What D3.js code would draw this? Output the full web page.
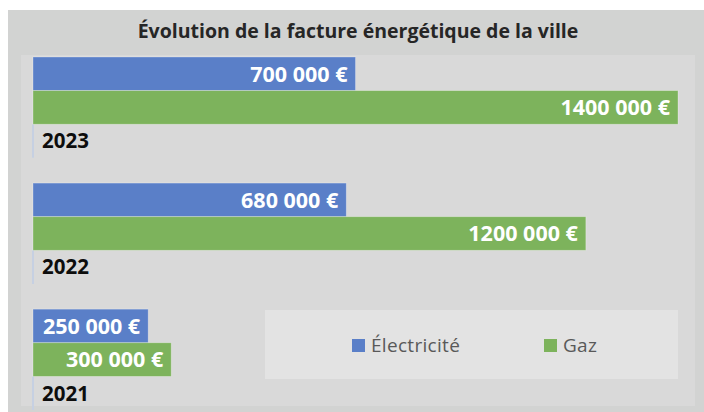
<!DOCTYPE html>
<html>
<head>
<meta charset="utf-8">
<script src="https://cdn.jsdelivr.net/npm/d3@7"></script>
<style>
    body { margin: 0; background: #fff; }
    svg { display: block; font-family: "Open Sans", sans-serif; }
</style>
</head>
<body>
<svg id="chart"></svg>
<script>
// Chart values
const years = ["2023", "2022", "2021"];
const seriesNames = ["Électricité", "Gaz"];
const electricite = [700000, 680000, 250000];
const gaz = [1400000, 1200000, 300000];
const chartTitle = "Évolution de la facture énergétique de la ville";

const width = 704;
const height = 412;
const colors = { "Électricité": "#5a7fc8", "Gaz": "#7db35c" };

function euro(v) {
    // "# ##0 €" style used in the source: only the last group is split
    const thousands = Math.floor(v / 1000);
    const rest = String(v % 1000).padStart(3, "0");
    return thousands + " " + rest + " €";
}

function drawChart() {
    const svg = d3.select("#chart")
        .attr("width", width)
        .attr("height", height);

    // Outer frame and plot area
    svg.append("rect")
        .attr("x", 8).attr("y", 10)
        .attr("width", width - 8).attr("height", height - 10)
        .attr("fill", "#d2d3d2");

    svg.append("rect")
        .attr("x", 21).attr("y", 55)
        .attr("width", 674).attr("height", 351)
        .attr("fill", "#d9d9d9");

    svg.append("text")
        .attr("x", 358).attr("y", 38)
        .attr("text-anchor", "middle")
        .attr("font-size", 19.5)
        .attr("font-weight", "bold")
        .attr("fill", "#262626")
        .text(chartTitle);

    const x = d3.scaleLinear()
        .domain([0, 1400000])
        .range([33, 678]);

    const y = d3.scaleBand()
        .domain(years)
        .range([57, 410])
        .paddingInner(0.2);

    // two bars and a slot for the category label
    const sub = d3.scaleBand()
        .domain([...seriesNames, "label"])
        .range([0, y.bandwidth()]);

    const rows = years.map((year, i) => ({
        year: year,
        values: [
            { name: "Électricité", value: electricite[i] },
            { name: "Gaz", value: gaz[i] }
        ]
    }));

    const group = svg.append("g")
        .selectAll("g")
        .data(rows)
        .enter().append("g")
        .attr("transform", d => `translate(0,${y(d.year)})`);

    // category axis line, only visible in the label slot
    group.append("line")
        .attr("x1", x(0)).attr("x2", x(0))
        .attr("y1", sub("label")).attr("y2", sub("label") + sub.bandwidth())
        .attr("stroke", "#c6d0e2")
        .attr("stroke-width", 2);

    group.selectAll("rect")
        .data(d => d.values)
        .enter().append("rect")
        .attr("x", x(0))
        .attr("y", d => sub(d.name))
        .attr("width", d => x(d.value) - x(0))
        .attr("height", sub.bandwidth())
        .attr("fill", d => colors[d.name])
        .attr("stroke", "rgba(255,255,255,0.35)")
        .attr("stroke-width", 0.8);

    group.selectAll("text.value")
        .data(d => d.values)
        .enter().append("text")
        .attr("class", "value")
        .attr("x", d => x(d.value) - 8)
        .attr("y", d => sub(d.name) + sub.bandwidth() / 2)
        .attr("dy", "0.36em")
        .attr("text-anchor", "end")
        .attr("font-size", 21.5)
        .attr("font-weight", "bold")
        .attr("fill", "#ffffff")
        .text(d => euro(d.value));

    group.append("text")
        .attr("x", x(0) + 9)
        .attr("y", sub("label") + sub.bandwidth() / 2)
        .attr("dy", "0.36em")
        .attr("font-size", 20.5)
        .attr("font-weight", "bold")
        .attr("fill", "#0d0d0d")
        .text(d => d.year);

    // Legend
    const legend = svg.append("g");
    legend.append("rect")
        .attr("x", 265).attr("y", 310)
        .attr("width", 413).attr("height", 69)
        .attr("fill", "#e3e3e3");

    const legendX = [352, 544];
    const item = legend.selectAll("g")
        .data(seriesNames)
        .enter().append("g")
        .attr("transform", (d, i) => `translate(${legendX[i]},339)`);

    item.append("rect")
        .attr("width", 13).attr("height", 13)
        .attr("fill", d => colors[d]);

    item.append("text")
        .attr("x", 19).attr("y", 13)
        .attr("font-size", 19)
        .attr("letter-spacing", 0.3)
        .attr("fill", "#595959")
        .text(d => d);
}

drawChart();
</script>
</body>
</html>
